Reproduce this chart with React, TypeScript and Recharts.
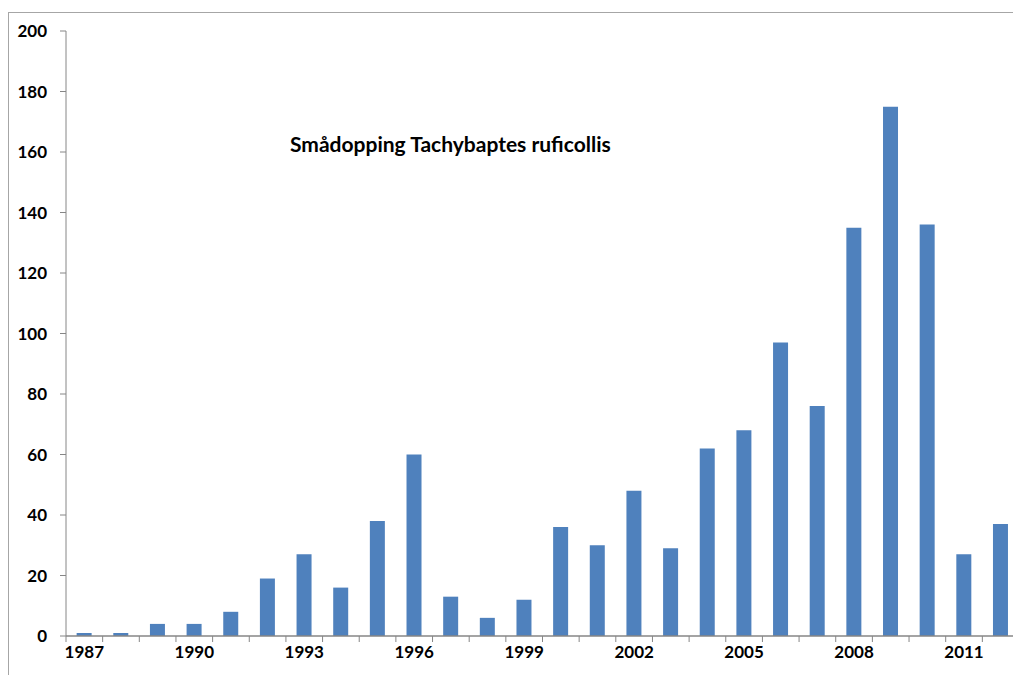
import { BarChart, Bar, XAxis, YAxis } from "recharts";

const years = [
  1987, 1988, 1989, 1990, 1991, 1992, 1993, 1994, 1995, 1996, 1997, 1998, 1999,
  2000, 2001, 2002, 2003, 2004, 2005, 2006, 2007, 2008, 2009, 2010, 2011, 2012,
];
const counts = [
  1, 1, 4, 4, 8, 19, 27, 16, 38, 60, 13, 6, 12, 36, 30, 48, 29, 62, 68, 97, 76,
  135, 175, 136, 27, 37,
];
const yTicks = [0, 20, 40, 60, 80, 100, 120, 140, 160, 180, 200];
const title = "Smådopping Tachybaptes ruficollis";

const data = years.map((y, i) => ({ year: String(y), count: counts[i] }));

const W = 1013;
const H = 667;
const LEFT = 58;
const RIGHT = 2;
const STEP = (W - LEFT - RIGHT) / years.length;
const FONT = "Lato, 'Open Sans', sans-serif";
const AXIS = "#868686";

function YearTick(props: any) {
  const { x, y, index, payload } = props;
  const showLabel = index % 3 === 0;
  return (
    <g>
      <line x1={x - STEP / 2} x2={x - STEP / 2} y1={y - 8} y2={y - 2} stroke={AXIS} />
      {index === years.length - 1 && (
        <line x1={x + STEP / 2} x2={x + STEP / 2} y1={y - 8} y2={y - 2} stroke={AXIS} />
      )}
      {showLabel && (
        <text
          x={x}
          y={y + 14}
          textAnchor="middle"
          fontFamily={FONT}
          fontWeight="bold"
          fontSize={17}
          fill="#000"
        >
          {payload.value}
        </text>
      )}
    </g>
  );
}

export default function App() {
  return (
    <div style={{ position: "relative", width: W, height: H }}>
      <div
        style={{
          position: "absolute",
          left: 0,
          top: 4,
          width: W + 20,
          height: H + 20,
          borderLeft: "1px solid #a6a6a6",
          borderTop: "1px solid #a6a6a6",
        }}
      />
      <BarChart
        width={W}
        height={H}
        data={data}
        margin={{ top: 23, right: RIGHT, left: 0, bottom: 0 }}
        barCategoryGap="29%"
        style={{ position: "absolute", left: 0, top: 0 }}
      >
        <XAxis
          dataKey="year"
          interval={0}
          tickLine={false}
          axisLine={{ stroke: AXIS, strokeWidth: 1.5 }}
          tick={<YearTick />}
          height={39}
        />
        <YAxis
          domain={[0, 200]}
          ticks={yTicks}
          width={LEFT}
          tickSize={6}
          tickMargin={13}
          axisLine={{ stroke: AXIS }}
          tickLine={{ stroke: AXIS }}
          tick={{ fontFamily: FONT, fontWeight: "bold", fontSize: 17, fill: "#000" }}
        />
        <Bar dataKey="count" fill="#4f81bd" isAnimationActive={false} />
      </BarChart>
      <div
        style={{
          position: "absolute",
          left: 282,
          top: 123,
          fontFamily: FONT,
          fontWeight: "bold",
          fontSize: 21,
          color: "#000",
          whiteSpace: "nowrap",
        }}
      >
        {title}
      </div>
    </div>
  );
}
